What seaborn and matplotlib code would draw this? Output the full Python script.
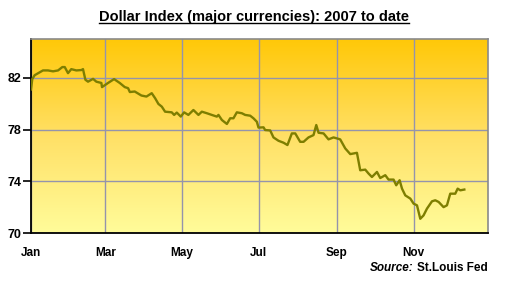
import numpy as np
import pandas as pd
import matplotlib
matplotlib.use("Agg")
import matplotlib.pyplot as plt
from matplotlib.colors import LinearSegmentedColormap
from matplotlib.lines import Line2D
import seaborn as sns

# ---- data (day of year 2007, index value) ----
days = [0, 1, 2.9, 9.5, 13.5, 17.5, 21.5, 24.9, 26.8, 29.4, 32, 36, 40, 41.3, 43.2, 45.3,
        49.3, 51.9, 55.9, 56.4, 61.2, 66, 70.5, 74.5, 77.1, 78.5, 82.4, 87.7, 91.7, 95.9,
        98.6, 101.2, 103.9, 106.5, 111.8, 113.7, 115.8, 119, 121.6, 125, 129, 133, 135.7,
        139.7, 143.6, 147.6, 148.9, 151.6, 155.6, 158.2, 160.8, 163.5, 167.5, 170.1, 174.1,
        176.7, 179.4, 180.7, 184.7, 186, 190, 192.6, 196.6, 200.6, 203.7, 207.2, 209.9,
        213.8, 216.5, 220.4, 224.4, 226.6, 228.4, 232.4, 236.3, 240.3, 245.6, 249.6, 253.6,
        258.9, 261.5, 265.5, 268.1, 270.8, 274.8, 277.4, 281.4, 284, 288, 290.1, 292.8,
        294.7, 297.3, 301.3, 303.9, 306.6, 309.2, 311.8, 314.5, 318.5, 321.1, 323.8, 327.7,
        330.4, 333, 337, 338.9, 341, 344.2]
values = [81.1, 81.9, 82.2, 82.57, 82.57, 82.5, 82.57, 82.83, 82.83, 82.36, 82.67, 82.57,
          82.6, 82.67, 81.85, 81.7, 81.92, 81.7, 81.6, 81.28, 81.6, 81.9, 81.6, 81.28, 81.2,
          80.9, 80.94, 80.63, 80.55, 80.81, 80.42, 79.98, 79.77, 79.38, 79.33, 79.13, 79.31,
          79.0, 79.33, 79.13, 79.51, 79.13, 79.38, 79.26, 79.13, 79.0, 79.13, 78.74, 78.43,
          78.87, 78.87, 79.33, 79.26, 79.13, 79.07, 78.87, 78.6, 78.15, 78.17, 77.96, 77.93,
          77.39, 77.13, 76.98, 76.8, 77.7, 77.7, 77.05, 77.05, 77.39, 77.57, 78.35, 77.75,
          77.7, 77.24, 77.39, 77.24, 76.54, 76.1, 76.2, 74.85, 74.9, 74.6, 74.33, 74.72,
          74.25, 74.47, 74.13, 74.13, 73.69, 74.08, 73.43, 72.91, 72.66, 72.27, 72.14, 71.1,
          71.36, 71.88, 72.45, 72.53, 72.4, 72.0, 72.14, 73.04, 73.04, 73.43, 73.3, 73.36]
month_ticks = [0, 59, 120, 181, 243, 304]
month_labels = ["Jan", "Mar", "May", "Jul", "Sep", "Nov"]
y_ticks = [70, 74, 78, 82]

df = pd.DataFrame({"day": days, "value": values})

FONT = ["Liberation Sans", "DejaVu Sans"]
plt.rcParams["font.family"] = FONT

fig = plt.figure(figsize=(5.13, 2.86), dpi=100)
fig.patch.set_facecolor("white")
ax = fig.add_axes([31 / 513, 1 - 233 / 286, (488 - 31) / 513, (233 - 39) / 286])

# gradient background
cmap = LinearSegmentedColormap.from_list("bg", ["#FFC808", "#FFE066", "#FFFC9A"])
grad = np.linspace(0, 1, 256).reshape(-1, 1)
ax.imshow(grad, aspect="auto", cmap=cmap, extent=[0, 1, 0, 1],
          transform=ax.transAxes, zorder=0, interpolation="bicubic")

sns.lineplot(data=df, x="day", y="value", ax=ax, color="#7E7E00", linewidth=1.7,
             zorder=3, legend=False)

ax.set_xlim(0, 363)
ax.set_ylim(70, 85)
ax.set_xticks(month_ticks)
ax.set_xticklabels(month_labels)
ax.set_yticks(y_ticks)
ax.set_yticklabels([str(v) for v in y_ticks])
ax.set_xlabel("")
ax.set_ylabel("")

ax.grid(True, color="#9494AC", linewidth=1.0, zorder=1)
for gl in ax.get_xgridlines() + ax.get_ygridlines():
    gl.set_zorder(1)

for side in ["left", "bottom"]:
    ax.spines[side].set_color("black")
    ax.spines[side].set_linewidth(1.3)
for side in ["top", "right"]:
    ax.spines[side].set_color("#8A8A8A")
    ax.spines[side].set_linewidth(1.2)

ax.tick_params(axis="y", length=6, width=1.2, color="black", pad=1, labelsize=9)
ax.tick_params(axis="x", length=0, pad=10, labelsize=8.5)
for lab in ax.get_xticklabels() + ax.get_yticklabels():
    lab.set_fontweight("bold")
    lab.set_family(FONT)

title = fig.text(254 / 513, 1 - 17 / 286, "Dollar Index (major currencies): 2007 to date",
                 ha="center", va="center", fontsize=10.5, fontweight="bold", family=FONT)

src2 = fig.text(488 / 513, 1 - 268 / 286, "St.Louis Fed", ha="right", va="center",
                fontsize=8.5, fontweight="bold", family=FONT)

fig.canvas.draw()
r = fig.canvas.get_renderer()
inv = fig.transFigure.inverted()
b2 = src2.get_window_extent(renderer=r)
sx = inv.transform([(b2.x0 - 4, 0)])[0][0]
fig.text(sx, 1 - 268 / 286, "Source:", ha="right", va="center", fontsize=8.5,
         fontweight="bold", fontstyle="italic", family=FONT)

# underline title
bb = title.get_window_extent(renderer=r)
(x0, y0), (x1, y1) = inv.transform([(bb.x0, bb.y0 + 1.5), (bb.x1, bb.y0 + 1.5)])
fig.add_artist(Line2D([x0, x1], [y0, y1], transform=fig.transFigure, color="black",
                      linewidth=1.0))

fig.savefig("out.png", dpi=100)
